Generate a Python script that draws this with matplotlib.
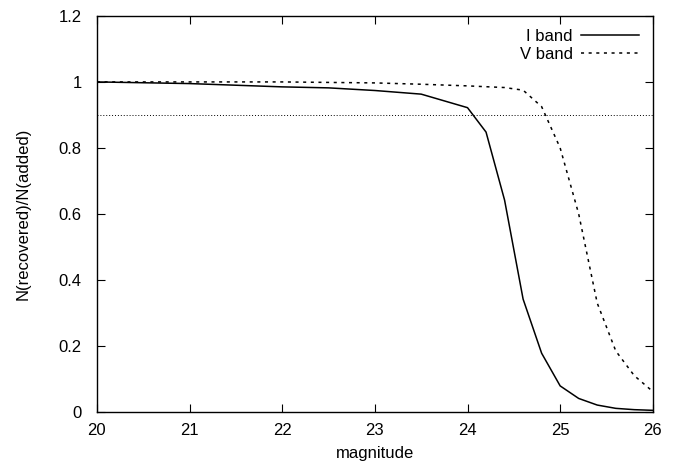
import matplotlib
matplotlib.use('Agg')
import matplotlib.pyplot as plt

plt.rcParams['font.family'] = ['Liberation Sans', 'DejaVu Sans']

# completeness curves
mag_i = [20.0, 21.0, 22.0, 22.5, 23.0, 23.5, 24.0, 24.2, 24.4, 24.6, 24.8, 25.0, 25.2, 25.4, 25.6, 25.8, 26.0]
frac_i = [1.0, 0.995, 0.985, 0.982, 0.974, 0.963, 0.922, 0.848, 0.642, 0.342, 0.178, 0.079, 0.041, 0.021, 0.011, 0.007, 0.005]

mag_v = [20.0, 21.0, 22.0, 23.0, 23.5, 24.0, 24.4, 24.6, 24.8, 25.0, 25.2, 25.4, 25.6, 25.8, 26.0]
frac_v = [1.0, 1.0, 1.0, 0.997, 0.993, 0.988, 0.983, 0.975, 0.925, 0.8, 0.6, 0.33, 0.185, 0.11, 0.062]

limit = 0.9

fig = plt.figure(figsize=(6.73, 4.68), dpi=100)
ax = fig.add_axes([0.144, 0.1197, 0.826, 0.8463])

ax.plot(mag_i, frac_i, color='black', lw=1.1, label='I band')
ax.plot(mag_v, frac_v, color='black', lw=1.1, linestyle=(0, (2, 3)), label='V band')
ax.axhline(limit, color='black', lw=0.7, linestyle=(0, (1, 2)))

ax.set_xlim(20, 26)
ax.set_ylim(0, 1.2)
ax.set_xticks([20, 21, 22, 23, 24, 25, 26])
ax.set_yticks([0, 0.2, 0.4, 0.6, 0.8, 1, 1.2])
ax.set_yticklabels(['0', '0.2', '0.4', '0.6', '0.8', '1', '1.2'])
ax.tick_params(direction='in', length=6, top=True, right=True, labelsize=12)
ax.tick_params(axis='x', pad=8)
ax.tick_params(axis='y', pad=11)
for s in ax.spines.values():
    s.set_linewidth(1)

ax.set_xlabel('magnitude', fontsize=12, labelpad=6)
ax.set_ylabel('N(recovered)/N(added)', fontsize=12, labelpad=20)

ax.legend(loc='upper right', frameon=False, markerfirst=False, fontsize=12,
          handlelength=3.5, handletextpad=0.5, labelspacing=0.15,
          borderaxespad=0.4, borderpad=0.4)

fig.savefig('out.png', dpi=100)
